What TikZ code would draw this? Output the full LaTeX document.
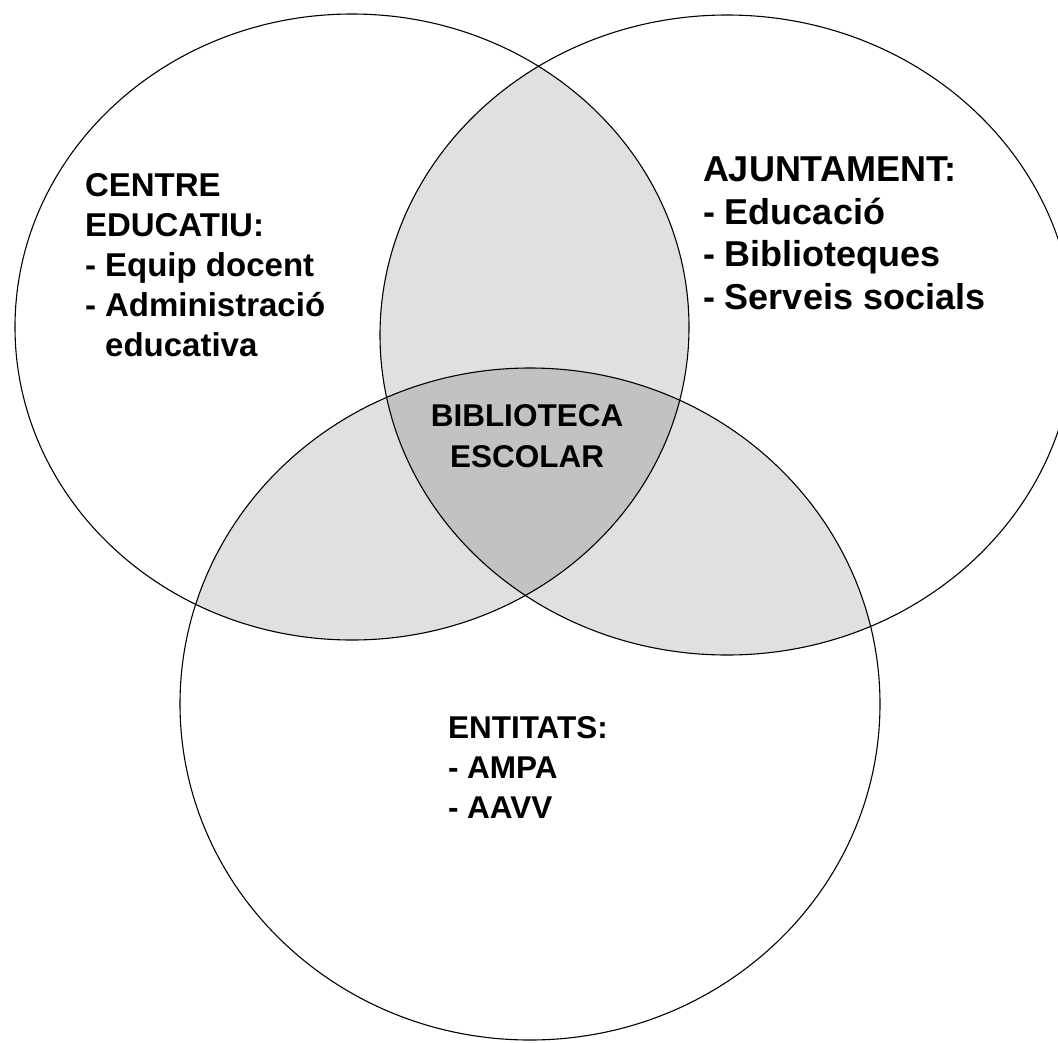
\documentclass[tikz,border=0pt]{standalone}
\usepackage{fontspec}
\setmainfont{Liberation Sans}
\definecolor{lightg}{RGB}{224,224,224}
\definecolor{darkg}{RGB}{194,194,194}
\begin{document}
\begin{tikzpicture}[x=1pt,y=-1pt,
  outline/.style={draw=black,line width=1.1pt},
  label/.style={inner sep=0pt,outer sep=0pt,text=black,font=\bfseries}]
\useasboundingbox (0,0) rectangle (1058,1042);
\clip (0,0) rectangle (1058,1042);
\fill[white] (0,0) rectangle (1058,1042);
\def\ellA{(352,327) ellipse [x radius=337pt, y radius=313pt]}
\def\ellB{(727,335) ellipse [x radius=347pt, y radius=320pt]}
\def\ellC{(530,704) ellipse [x radius=350pt, y radius=336pt]}
% pairwise intersections
\begin{scope}
  \clip \ellA;
  \fill[lightg] \ellB;
  \fill[lightg] \ellC;
\end{scope}
\begin{scope}
  \clip \ellB;
  \fill[lightg] \ellC;
\end{scope}
% triple intersection
\begin{scope}
  \clip \ellA;
  \clip \ellB;
  \fill[darkg] \ellC;
\end{scope}
% outlines
\draw[outline] \ellA;
\draw[outline] \ellB;
\draw[outline] \ellC;
% texts
\node[label,anchor=north west,align=left,font=\bfseries\fontsize{33}{40}\selectfont] (centre) at (85,173.4)
  {CENTRE\\EDUCATIU:\\- Equip docent\\- Administració\\\hphantom{- }educativa};
\node[label,anchor=north west,align=left,font=\bfseries\fontsize{36}{42.5}\selectfont] (ajuntament) at (703,157.2)
  {AJUNTAMENT:\\- Educació\\- Biblioteques\\- Serveis socials};
\node[label,anchor=north,align=center,font=\bfseries\fontsize{31.5}{41}\selectfont] (biblioteca) at (527,404.4)
  {BIBLIOTECA\\ESCOLAR};
\node[label,anchor=north west,align=left,font=\bfseries\fontsize{31.5}{40}\selectfont] (entitats) at (448,716.4)
  {ENTITATS:\\- AMPA\\- AAVV};
\end{tikzpicture}
\end{document}
